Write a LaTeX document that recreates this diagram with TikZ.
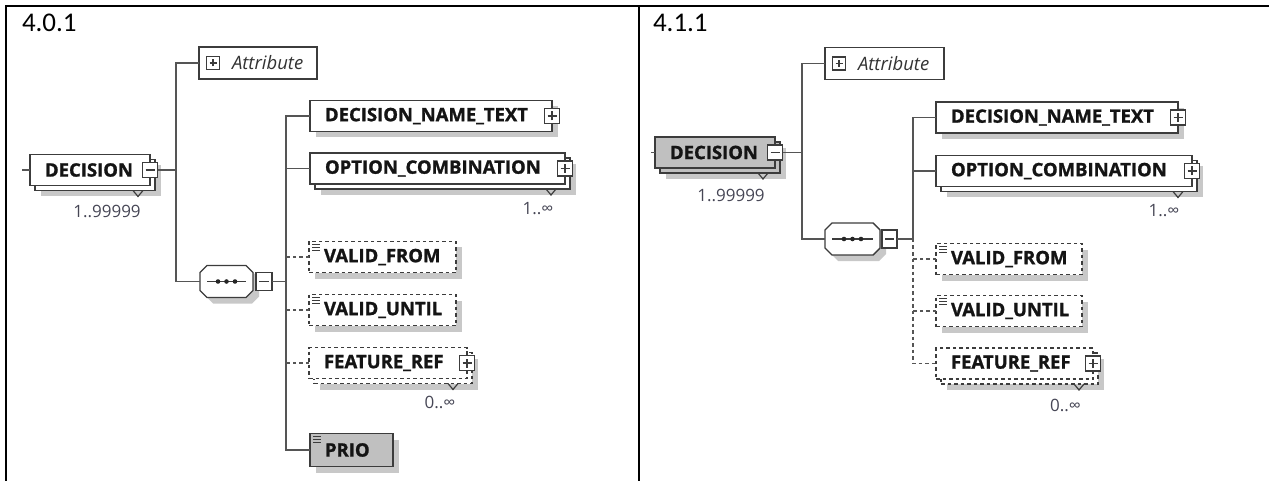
\documentclass[tikz,border=0pt]{standalone}
\usepackage{fontspec}
\setmainfont{Carlito}
\newfontfamily\xsdfont{Open Sans}[BoldFeatures={FakeBold=1.2}]
\usetikzlibrary{shadows}

\definecolor{edge}{RGB}{60,60,60}
\definecolor{wirec}{RGB}{85,85,85}
\definecolor{shade}{RGB}{200,200,200}
\definecolor{boxgray}{RGB}{192,192,192}
\definecolor{occurs}{RGB}{70,70,85}

\tikzset{
  x=1pt, y=-1pt,
  every node/.style={inner sep=0pt, outer sep=0pt},
  wire/.style={draw=wirec, line width=1.5pt},
  opt/.style={dash pattern=on 3.5pt off 3pt},
  ename/.style={font=\xsdfont\bfseries\fontsize{18.5}{22}\selectfont, text=black!92},
  box/.style={draw=edge, fill=white, line width=1.4pt, inner xsep=15pt, inner ysep=0pt,
    minimum height=31pt, text width=#1, align=left, ename},
  single/.style={box=#1, drop shadow={shadow xshift=6pt, shadow yshift=-6pt, fill=shade, opacity=1}},
  multi/.style={box=#1, drop shadow={shadow xshift=11pt, shadow yshift=-11pt, fill=shade, opacity=1},
    copy shadow={shadow xshift=5pt, shadow yshift=-5pt, draw=edge, fill=white, line width=1.4pt}},
  multiopt/.style={box=#1, opt, drop shadow={shadow xshift=11pt, shadow yshift=-11pt, fill=shade, opacity=1},
    copy shadow={shadow xshift=5pt, shadow yshift=-5pt, draw=edge, fill=white, line width=1.4pt, opt}},
  multigray/.style={box=#1, fill=boxgray, drop shadow={shadow xshift=11pt, shadow yshift=-11pt, fill=shade, opacity=1},
    copy shadow={shadow xshift=5pt, shadow yshift=-5pt, draw=edge, fill=boxgray, line width=1.4pt}},
  attrbox/.style={draw=edge, fill=white, line width=1.2pt, inner xsep=12pt, minimum height=32pt,
    text width=#1, align=left, font=\xsdfont\itshape\fontsize{18.5}{22}\selectfont, text=black!80},
  occ/.style={font=\xsdfont\fontsize{17}{20}\selectfont, text=occurs},
  pmbox/.style={draw=edge, fill=white, line width=1.1pt, minimum width=15pt, minimum height=15pt},
  plus/.style={pmbox, path picture={\draw[edge, line width=1.1pt]
      ([xshift=3pt]path picture bounding box.west) -- ([xshift=-3pt]path picture bounding box.east)
      ([yshift=3pt]path picture bounding box.south) -- ([yshift=-3pt]path picture bounding box.north);}},
  minus/.style={pmbox, path picture={\draw[edge, line width=1.1pt]
      ([xshift=3pt]path picture bounding box.west) -- ([xshift=-3pt]path picture bounding box.east);}},
  notch/.pic={\draw[edge, line width=1.2pt] (-5pt,0pt) -- (0pt,-6pt) -- (5pt,0pt);},
  simple/.pic={\foreach \d in {0,3,6}{\draw[edge, line width=0.8pt] (0pt,-\d pt) -- (8pt,-\d pt);}},
  seqshape/.style={draw=none, minimum width=#1, minimum height=32pt},
  panel/.style={anchor=base west, font=\fontsize{27}{30}\selectfont},
}

% octagonal sequence compositor drawn around an invisible node
\newcommand\seqcomp[1]{%
  \path[draw=edge, fill=white, line width=1.4pt,
        drop shadow={shadow xshift=6pt, shadow yshift=-6pt, fill=shade, opacity=1}]
    ([xshift=7pt]#1.north west) -- ([xshift=-7pt]#1.north east) -- ([yshift=-7pt]#1.north east)
    -- ([yshift=7pt]#1.south east) -- ([xshift=-7pt]#1.south east) -- ([xshift=7pt]#1.south west)
    -- ([yshift=7pt]#1.south west) -- ([yshift=-7pt]#1.north west) -- cycle;
  \draw[edge, line width=1.2pt] ([xshift=7pt]#1.west) -- ([xshift=-7pt]#1.east);
  \fill[black!85] ([xshift=-8.5pt]#1.center) circle (2.3pt) (#1.center) circle (2.3pt)
    ([xshift=8.5pt]#1.center) circle (2.3pt);}

\begin{document}
\begin{tikzpicture}
\useasboundingbox (0,0) rectangle (1269,481);

% table frame
\draw[black, line width=2.2pt] (6,481) -- (6,6) -- (1269,6);
\draw[black, line width=2.2pt] (639,6) -- (639,481);

\node[panel] (lblA) at (22,32) {4.0.1};
\node[panel] (lblB) at (653,32) {4.1.1};

%% ---------------- left: 4.0.1 ----------------
\node[multi=90pt] (dec) at (90,170) {\mbox{DECISION}};
\pic at ([xshift=-12pt,yshift=-5pt]dec.south east) {notch};
\node[minus] (decm) at (dec.east) {};
\node[occ] (decocc) at (107,211) {1..99999};

\node[attrbox=94pt, minimum width=118pt] (attr) at (258,63) {\mbox{\hspace*{21pt}Attribute}};
\node[plus, minimum width=13pt, minimum height=13pt] (attrp) at ([xshift=14pt]attr.west) {};

\node[seqshape=53pt] (seq) at (226.5,281.5) {};
\seqcomp{seq}
\node[minus, minimum width=16pt, minimum height=18pt] (seqi) at (264,281.5) {};

\node[single=212pt] (dnt) at (431,116) {\mbox{DECISION\_NAME\_TEXT}};
\node[plus] (dntp) at (dnt.east) {};

\node[multi=225pt] (oc) at (437.5,168.5) {\mbox{OPTION\_COMBINATION}};
\pic at ([xshift=-14pt,yshift=-5pt]oc.south east) {notch};
\node[plus] (ocp) at (oc.east) {};
\node[occ] (ococc) at (538,209) {1..∞};

\node[single=117pt, opt] (vf) at (382.5,257) {\mbox{VALID\_FROM}};
\pic at ([shift={(3pt,-3pt)}]vf.north west) {simple};
\node[single=117pt, opt] (vu) at (382.5,310) {\mbox{VALID\_UNTIL}};
\pic at ([shift={(3pt,-3pt)}]vu.north west) {simple};

\node[multiopt=128pt] (fr) at (388,363) {\mbox{FEATURE\_REF}};
\pic at ([xshift=-14pt,yshift=-5pt]fr.south east) {notch};
\node[plus] (frp) at (fr.east) {};
\node[occ] (frocc) at (440,402) {0..∞};

\node[single=53pt, fill=boxgray, minimum height=33pt] (prio) at (351.5,450) {\mbox{PRIO}};
\pic at ([shift={(3pt,-3pt)}]prio.north west) {simple};

% connectors
\coordinate (ja) at (176,170);
\coordinate (din) at (22,170);
\coordinate (jb) at (286,281.5);
\draw[wire] (din) -- (dec.west);
\draw[wire] (decm.east) -- (ja);
\draw[wire] (attr.west) -| (ja) |- (seq.west);
\draw[wire] (seqi.east) -- (jb);
\draw[wire] (dnt.west) -| (jb) |- (prio.west);
\draw[wire] (oc.west) -- (oc.west -| jb);
\draw[wire, opt] (vf.west) -- (vf.west -| jb);
\draw[wire, opt] (vu.west) -- (vu.west -| jb);
\draw[wire, opt] (fr.west) -- (fr.west -| jb);

%% ---------------- right: 4.1.1 ----------------
\node[multigray=90pt] (decB) at (715,152.5) {\mbox{DECISION}};
\pic at ([xshift=-12pt,yshift=-5pt]decB.south east) {notch};
\node[minus] (decBm) at (decB.east) {};
\node[occ] (decBocc) at (731,195) {1..99999};

\node[attrbox=95pt, minimum width=119pt] (attrB) at (884.5,63.5) {\mbox{\hspace*{21pt}Attribute}};
\node[plus, minimum width=13pt, minimum height=13pt] (attrBp) at ([xshift=14pt]attrB.west) {};

\node[seqshape=55pt] (seqB) at (852.5,239) {};
\seqcomp{seqB}
\node[minus, minimum width=15pt, minimum height=18pt] (seqBi) at (889.5,239) {};

\node[single=212pt] (dntB) at (1057,117.5) {\mbox{DECISION\_NAME\_TEXT}};
\node[plus] (dntBp) at (dntB.east) {};

\node[multi=226pt] (ocB) at (1064,171) {\mbox{OPTION\_COMBINATION}};
\pic at ([xshift=-14pt,yshift=-5pt]ocB.south east) {notch};
\node[plus] (ocBp) at (ocB.east) {};
\node[occ] (ocBocc) at (1164,211) {1..∞};

\node[single=116pt, opt] (vfB) at (1009,259) {\mbox{VALID\_FROM}};
\pic at ([shift={(3pt,-3pt)}]vfB.north west) {simple};
\node[single=116pt, opt] (vuB) at (1009,311) {\mbox{VALID\_UNTIL}};
\pic at ([shift={(3pt,-3pt)}]vuB.north west) {simple};

\node[multiopt=127pt] (frB) at (1014.5,363.5) {\mbox{FEATURE\_REF}};
\pic at ([xshift=-14pt,yshift=-5pt]frB.south east) {notch};
\node[plus] (frBp) at (frB.east) {};
\node[occ] (frBocc) at (1065.5,405) {0..∞};

% connectors
\coordinate (jc) at (802,152.5);
\coordinate (dinB) at (651,152.5);
\coordinate (jd) at (913,239);
\draw[wire] (dinB) -- (decB.west);
\draw[wire] (decBm.east) -- (jc);
\draw[wire] (attrB.west) -| (jc) |- (seqB.west);
\draw[wire] (seqBi.east) -- (jd);
\draw[wire] (dntB.west) -| (jd);
\draw[wire] (ocB.west) -- (ocB.west -| jd);
\draw[wire, opt] (jd) |- (frB.west);
\draw[wire, opt] (vfB.west) -- (vfB.west -| jd);
\draw[wire, opt] (vuB.west) -- (vuB.west -| jd);
\end{tikzpicture}
\end{document}
